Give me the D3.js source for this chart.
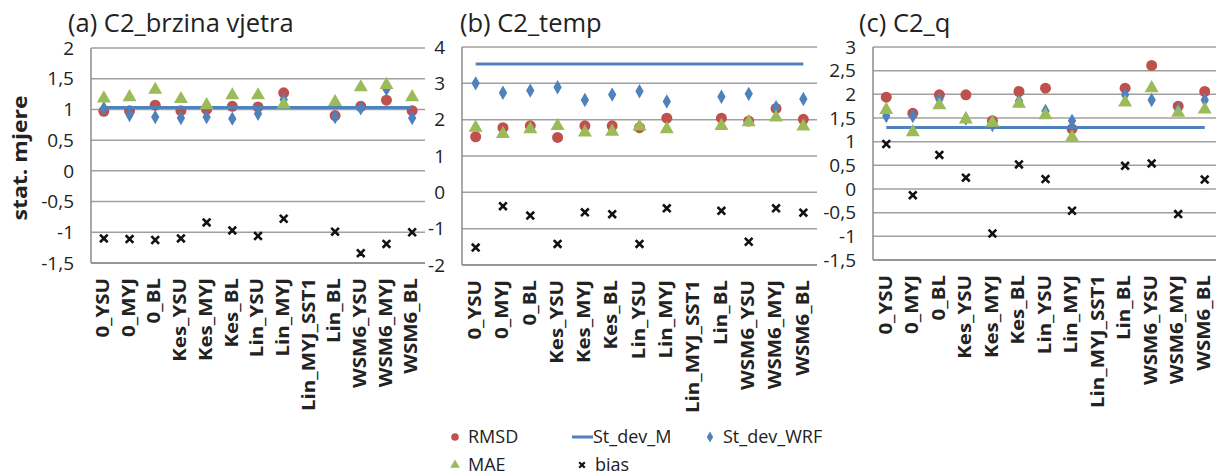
<!DOCTYPE html>
<html>
<head>
<meta charset="utf-8">
<script src="https://cdn.jsdelivr.net/npm/d3@7"></script>
<style>
  body { margin: 0; background: #fff; }
  text { font-family: "Open Sans", Lato, sans-serif; fill: #222; }
</style>
</head>
<body>
<div id="viz"></div>
<script>
// categories (WRF runs)
const runs = ["0_YSU", "0_MYJ", "0_BL", "Kes_YSU", "Kes_MYJ", "Kes_BL", "Lin_YSU", "Lin_MYJ",
  "Lin_MYJ_SST1", "Lin_BL", "WSM6_YSU", "WSM6_MYJ", "WSM6_BL"];

// (a) C2_brzina vjetra
const rmsdA = [0.97, 0.98, 1.07, 0.98, 1.0, 1.05, 1.04, 1.27, null, 0.90, 1.05, 1.15, 0.98];
const maeA = [1.18, 1.20, 1.32, 1.17, 1.07, 1.23, 1.23, 1.08, null, 1.12, 1.36, 1.40, 1.20];
const sdWrfA = [1.02, 0.91, 0.875, 0.86, 0.875, 0.85, 0.93, 1.16, null, 0.875, 1.02, 1.33, 0.86];
const biasA = [-1.10, -1.11, -1.125, -1.10, -0.84, -0.97, -1.06, -0.78, null, -0.99, -1.34, -1.19, -1.0];
const sdMA = 1.03;

// (b) C2_temp
const rmsdB = [1.53, 1.78, 1.83, 1.51, 1.83, 1.83, 1.78, 2.04, null, 2.04, 1.96, 2.31, 2.01];
const maeB = [1.78, 1.61, 1.74, 1.83, 1.65, 1.67, 1.81, 1.74, null, 1.83, 1.93, 2.06, 1.81];
const sdWrfB = [3.0, 2.74, 2.80, 2.89, 2.54, 2.69, 2.78, 2.50, null, 2.63, 2.71, 2.34, 2.57];
const biasB = [-1.52, -0.38, -0.64, -1.42, -0.55, -0.60, -1.42, -0.44, null, -0.51, -1.36, -0.44, -0.56];
const sdMB = 3.53;

// (c) C2_q
const rmsdC = [1.94, 1.60, 1.99, 1.99, 1.44, 2.06, 2.13, 1.27, null, 2.13, 2.61, 1.75, 2.06];
const maeC = [1.67, 1.20, 1.77, 1.47, 1.40, 1.80, 1.56, 1.09, null, 1.83, 2.13, 1.61, 1.68];
const sdWrfC = [1.54, 1.54, 1.89, 1.49, 1.35, 1.86, 1.65, 1.44, null, 1.99, 1.88, 1.68, 1.88];
const biasC = [0.95, -0.13, 0.72, 0.24, -0.94, 0.52, 0.21, -0.46, null, 0.49, 0.54, -0.53, 0.20];
const sdMC = 1.30;

const titles = ["(a) C2_brzina vjetra", "(b) C2_temp", "(c) C2_q"];
const yTicksA = [-1.5, -1, -0.5, 0, 0.5, 1, 1.5, 2];
const yTicksB = [-2, -1, 0, 1, 2, 3, 4];
const yTicksC = [-1.5, -1, -0.5, 0, 0.5, 1, 1.5, 2, 2.5, 3];

const legendNames = ["RMSD", "St_dev_M", "St_dev_WRF", "MAE", "bias"];

const red = "#C0504D", green = "#9BBB59", blue = "#4F81BD";

const w = 1216, h = 475;
const svg = d3.select("#viz").append("svg").attr("width", w).attr("height", h);

// panel layout
const panels = [
  {left: 91, right: 425, top: 48, bottom: 263, ticks: yTicksA, rmsd: rmsdA, mae: maeA, sd: sdWrfA, bias: biasA, sdM: sdMA, titleX: 68},
  {left: 462, right: 817, top: 47, bottom: 265, ticks: yTicksB, rmsd: rmsdB, mae: maeB, sd: sdWrfB, bias: biasB, sdM: sdMB, titleX: 460},
  {left: 873, right: 1218, top: 47, bottom: 260, ticks: yTicksC, rmsd: rmsdC, mae: maeC, sd: sdWrfC, bias: biasC, sdM: sdMC, titleX: 859}
];

const fmt = v => String(v).replace(".", ",");

const circle = d3.symbol().type(d3.symbolCircle).size(95);
const tri = d3.symbol().type(d3.symbolTriangle).size(85);
const diamond = d3.symbol().type(d3.symbolDiamond).size(60);
const cross = d3.symbol().type(d3.symbolX).size(40);

function drawMarks(g, vals, x, y, sym, fill) {
  g.append("g").selectAll("path")
    .data(vals.map((v, i) => ({v: v, c: runs[i]})).filter(d => d.v !== null))
    .enter().append("path")
    .attr("transform", d => `translate(${x(d.c) + x.bandwidth() / 2},${y(d.v)})`)
    .attr("d", sym)
    .attr("fill", fill);
}

panels.forEach((p, k) => {
  const g = svg.append("g");
  const x = d3.scaleBand().domain(runs).range([p.left, p.right]).padding(0);
  const y = d3.scaleLinear().domain(d3.extent(p.ticks)).range([p.bottom, p.top]);

  // gridlines
  g.append("g").selectAll("line").data(p.ticks).enter().append("line")
    .attr("x1", p.left).attr("x2", p.right)
    .attr("y1", d => y(d)).attr("y2", d => y(d))
    .attr("stroke", "#a0a0a0").attr("stroke-width", 1.5);
  // frame left & bottom
  g.append("line").attr("x1", p.left).attr("x2", p.left).attr("y1", p.top).attr("y2", p.bottom)
    .attr("stroke", "#8c8c8c").attr("stroke-width", 1.5);
  g.append("line").attr("x1", p.left).attr("x2", p.right).attr("y1", p.bottom).attr("y2", p.bottom)
    .attr("stroke", "#8c8c8c").attr("stroke-width", 1.5);

  // y tick labels
  g.append("g").selectAll("text").data(p.ticks).enter().append("text")
    .attr("x", p.left - 17).attr("y", d => y(d)).attr("dy", "0.35em")
    .attr("text-anchor", "end").style("font-size", "19px")
    .text(fmt);

  // x labels (stretched along the text to match the original's tall narrow look)
  g.append("g").selectAll("text").data(runs).enter().append("text")
    .attr("transform", d => `translate(${x(d) + x.bandwidth() / 2},${p.bottom + 15}) rotate(-90) scale(1.17,1)`)
    .attr("dy", "0.3em").attr("text-anchor", "end")
    .style("font-size", "17.5px").style("font-weight", "bold")
    .text(d => d);

  // title
  g.append("text").attr("x", p.titleX).attr("y", 32)
    .style("font-size", "25.5px").text(titles[k]);

  // series
  drawMarks(g, p.rmsd, x, y, circle, red);
  g.append("line")
    .attr("x1", x(runs[0]) + x.bandwidth() / 2).attr("x2", x(runs[runs.length - 1]) + x.bandwidth() / 2)
    .attr("y1", y(p.sdM)).attr("y2", y(p.sdM))
    .attr("stroke", blue).attr("stroke-width", 3);
  drawMarks(g, p.sd, x, y, diamond, blue);
  drawMarks(g, p.mae, x, y, tri, green);
  g.append("g").selectAll("path")
    .data(p.bias.map((v, i) => ({v: v, c: runs[i]})).filter(d => d.v !== null))
    .enter().append("path")
    .attr("transform", d => `translate(${x(d.c) + x.bandwidth() / 2},${y(d.v)})`)
    .attr("d", cross).attr("fill", "none").attr("stroke", "#111").attr("stroke-width", 2.6);
});

// y axis title
svg.append("text").attr("transform", "translate(20,158) rotate(-90) scale(1.18,1)")
  .attr("dy", "0.35em").attr("text-anchor", "middle")
  .style("font-size", "19.5px").style("font-weight", "bold").text("stat. mjere");

// legend
const legend = svg.append("g").attr("id", "legend");
const legPos = [[455, 437], [582, 437], [710, 437], [455, 465], [582, 465]];
legendNames.forEach((name, i) => {
  const [lx, ly] = legPos[i];
  if (i === 0) legend.append("path").attr("transform", `translate(${lx},${ly})`).attr("d", d3.symbol().type(d3.symbolCircle).size(45)).attr("fill", red);
  if (i === 1) legend.append("line").attr("x1", lx - 10).attr("x2", lx + 11).attr("y1", ly).attr("y2", ly).attr("stroke", blue).attr("stroke-width", 3);
  if (i === 2) legend.append("path").attr("transform", `translate(${lx},${ly})`).attr("d", d3.symbol().type(d3.symbolDiamond).size(35)).attr("fill", blue);
  if (i === 3) legend.append("path").attr("transform", `translate(${lx},${ly})`).attr("d", d3.symbol().type(d3.symbolTriangle).size(40)).attr("fill", green);
  if (i === 4) legend.append("path").attr("transform", `translate(${lx},${ly})`).attr("d", d3.symbol().type(d3.symbolX).size(22)).attr("fill", "none").attr("stroke", "#111").attr("stroke-width", 2.2);
  legend.append("text").attr("x", lx + (i === 1 ? 11 : 13)).attr("y", ly).attr("dy", "0.35em")
    .style("font-size", "18px").text(name);
});
</script>
</body>
</html>
